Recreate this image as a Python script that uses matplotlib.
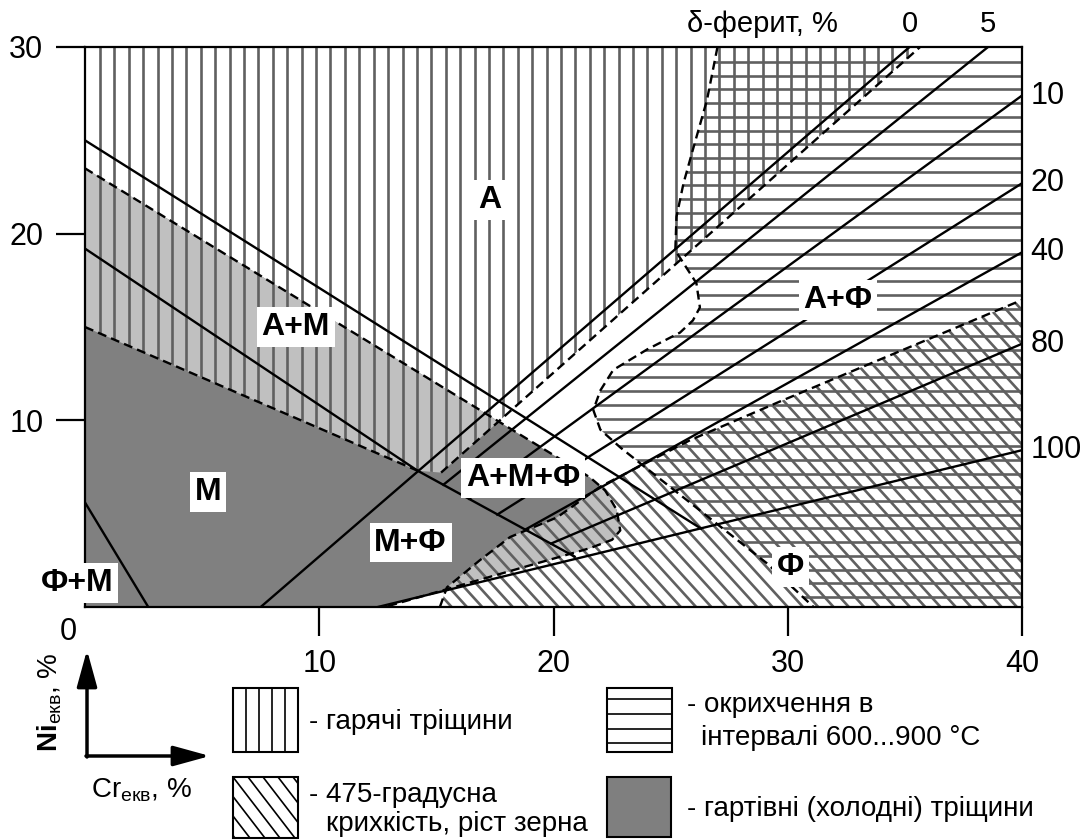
import numpy as np
import matplotlib as mpl
import matplotlib.pyplot as plt
from matplotlib.patches import Polygon, Rectangle
from matplotlib.collections import LineCollection

plt.rcParams['font.family'] = ['Liberation Sans', 'DejaVu Sans']
plt.rcParams['mathtext.fontset'] = 'custom'
plt.rcParams['mathtext.rm'] = 'Liberation Sans'
plt.rcParams['mathtext.it'] = 'Liberation Sans'
plt.rcParams['mathtext.bf'] = 'Liberation Sans:bold'

#--------------------------------
# Datos del diagrama (Cr_ekv, Ni_ekv), leidos de la figura
# linea continua A / A+M
l1_cr = [0.0, 26.3]
l1_ni = [25.0, 4.2]
# linea continua A+M / M (sigue bajo A+M+F)
l2_cr = [0.0, 14.2, 20.9]
l2_ni = [19.2, 7.3, 2.7]
# linea continua M / F+M
l3_cr = [0.0, 2.7]
l3_ni = [5.6, 0.0]

# lineas de delta-ferrita
ferit = [0, 5, 10, 20, 40, 80, 100]
fer_cr0 = [7.5, 15.3, 16.4, 17.6, 18.8, 19.9, 12.5]
fer_ni0 = [0.0, 6.55, 5.8, 4.95, 4.15, 3.4, 0.0]
fer_cr1 = [35.2, 38.55, 40.0, 40.0, 40.0, 40.0, 40.0]
fer_ni1 = [30.0, 30.0, 27.4, 22.7, 19.0, 14.1, 8.4]

# lineas discontinuas
d2_cr = [0.0, 14.2]
d2_ni = [15.0, 7.3]
db_cr = [15.2, 35.65]
db_ni = [7.2, 30.0]

# zonas
# garyachi trishchyny (vertical)
gar_cr = [0.0, 35.65, 15.2, 14.2, 0.0]
gar_ni = [30.0, 30.0, 7.2, 7.3, 15.0]
# okrykhchennya 600...900 C (horizontal)
okr_cr = [27.0, 26.55, 25.95, 25.55, 25.25, 25.2, 26.1, 26.25, 25.95, 25.4, 24.0,
          22.55, 22.0, 21.7, 22.0, 22.85, 23.7, 29.1, 31.1, 40.0, 40.0]
okr_ni = [30.0, 27.15, 24.5, 22.7, 20.9, 19.1, 17.35, 16.05, 15.35, 14.7, 13.8,
          12.7, 11.6, 10.55, 9.5, 8.55, 7.7, 2.35, 0.0, 0.0, 30.0]
# 475-gradusna krykhkist (diagonal)
kr_cr = [15.15, 15.45, 16.85, 18.15, 20.15, 22.0, 25.85, 29.65, 40.0, 40.0]
kr_ni = [0.0, 1.05, 2.5, 3.75, 4.8, 6.45, 8.95, 11.0, 16.45, 0.0]
# gartivni (kholodni) trishchyny (gris)
hol_cr = [0.0, 21.55, 22.2, 22.7, 22.85, 22.5, 21.55, 12.8, 0.0]
hol_ni = [23.5, 6.95, 6.25, 5.2, 4.1, 3.6, 3.15, 0.0, 0.0]

# etiquetas de zonas
zona = ['А', 'А+М', 'М', 'Ф+М', 'М+Ф', 'А+М+Ф', 'А+Ф', 'Ф']
zona_cr = [17.3, 9.0, 5.25, -0.35, 13.9, 18.7, 32.15, 30.1]
zona_ni = [21.8, 15.0, 6.15, 1.3, 3.45, 6.9, 16.45, 2.15]

xt = [10, 20, 30, 40]
yt = [10, 20, 30]

leyenda = ['- гарячі тріщини', '- окрихчення в', 'інтервалі 600...900 °С',
           '- 475-градусна', 'крихкість, ріст зерна', '- гартівні (холодні) тріщини']

#--------------------------------
fig = plt.figure(figsize=(10.89, 8.40), dpi=100)
ax = fig.add_axes((85/1089., 1-607/840., 937/1089., 560/840.))
ax.set_xlim(0, 40)
ax.set_ylim(0, 30)

def poly(cr, ni, **kw):
    p = Polygon(np.column_stack([cr, ni]), closed=True, **kw)
    ax.add_patch(p)
    return p

def rayado(patch, segs, c='#606060', lw=1.9):
    lc = LineCollection(segs, colors=c, linewidths=lw, zorder=2)
    ax.add_collection(lc, autolim=False)
    lc.set_clip_path(patch)

p_hol = poly(hol_cr, hol_ni, fc='#808080', ec='none', zorder=1)
p_gar = poly(gar_cr, gar_ni, fc='none', ec='none')
p_okr = poly(okr_cr, okr_ni, fc='none', ec='none')
p_kr = poly(kr_cr, kr_ni, fc='none', ec='none')
# solape con el gris mas claro
for cr, ni in [(gar_cr, gar_ni), (kr_cr, kr_ni)]:
    q = poly(cr, ni, fc='#c0c0c0', ec='none', zorder=1.2)
    q.set_clip_path(p_hol)

vert = [[(x, 0), (x, 30)] for x in np.arange(0.64, 40, 0.615)]
hori = [[(0, y), (40, y)] for y in np.arange(29.2, 0, -0.735)]
k = -1.38
diag = [[(-2, c - 2*k), (42, c + 42*k)] for c in np.arange(0, 30 - k*42, 0.9)]
rayado(p_gar, vert)
rayado(p_okr, hori)
rayado(p_kr, diag)

lw = 1.7
ds = (0, (3.8, 2.2))
ax.plot(l1_cr, l1_ni, 'k-', lw=lw, zorder=3)
ax.plot(l2_cr, l2_ni, 'k-', lw=lw, zorder=3)
ax.plot(l3_cr, l3_ni, 'k-', lw=lw, zorder=3)
for i in range(len(ferit)):
    ax.plot([fer_cr0[i], fer_cr1[i]], [fer_ni0[i], fer_ni1[i]], 'k-', lw=lw, zorder=3)
ax.plot(d2_cr, d2_ni, color='k', ls=ds, lw=lw, zorder=3)
ax.plot(db_cr, db_ni, color='k', ls=ds, lw=lw, zorder=3)
ax.plot(hol_cr[:-1], hol_ni[:-1], color='k', ls=ds, lw=lw, zorder=3)
ax.plot(kr_cr[:-1], kr_ni[:-1], color='k', ls=ds, lw=lw, zorder=3)
ax.plot(okr_cr[:-2], okr_ni[:-2], color='k', ls=ds, lw=lw, zorder=3)

for t, x, y in zip(zona, zona_cr, zona_ni):
    ax.text(x, y, t, ha='center', va='center', fontsize=23, fontweight='bold', zorder=6,
            clip_on=False, bbox=dict(boxstyle='square,pad=0.15', fc='white', ec='none'))

# ejes
ax.set_xticks(xt)
ax.set_yticks(yt)
ax.tick_params(direction='out', length=21, width=1.6, labelsize=22)
ax.tick_params(axis='x', pad=9)
ax.tick_params(axis='y', pad=9)
for s in ax.spines.values():
    s.set_linewidth(1.6)
    s.set_zorder(4)
ax.text(-0.73, -1.34, '0', ha='center', va='center', fontsize=22, clip_on=False)

# etiquetas de ferrita
for i in range(len(ferit)):
    if fer_ni1[i] >= 30:
        ax.text(fer_cr1[i], 31.25, str(ferit[i]), ha='center', va='center', fontsize=21)
    else:
        ax.text(40.35, fer_ni1[i], str(ferit[i]), ha='left', va='center', fontsize=22)
ax.text(28.9, 31.25, 'δ-ферит, %', ha='center', va='center', fontsize=21)

#--------------------------------
# leyenda en pixeles de la figura
lg = fig.add_axes((0, 0, 1, 1))
lg.set_xlim(0, 1089)
lg.set_ylim(840, 0)
lg.axis('off')

cajas = [(233, 688, 65, 64), (607, 688, 65, 64), (233, 777, 65, 61), (607, 777, 64, 60)]
for j, (x0, y0, w, h) in enumerate(cajas):
    fc = '#7f7f7f' if j == 3 else 'white'
    r = Rectangle((x0, y0), w, h, fc=fc, ec='k', lw=1.5, zorder=2)
    lg.add_patch(r)
    if j == 0:
        for xx in [13, 26, 39, 52]:
            lg.plot([x0+xx, x0+xx], [y0, y0+h], 'k-', lw=1.2, zorder=3)
    elif j == 1:
        for yy in [11, 26, 41, 55]:
            lg.plot([x0, x0+w], [y0+yy, y0+yy], 'k-', lw=1.2, zorder=3)
    elif j == 2:
        lc = LineCollection([[(x0+c, y0), (x0+c+h/1.3, y0+h)] for c in np.arange(-45, 65, 15)],
                            colors='k', linewidths=1.2, zorder=3)
        lg.add_collection(lc)
        lc.set_clip_path(r)

fs = 20
lg.text(309, 722, leyenda[0], ha='left', va='center', fontsize=fs)
lg.text(687, 705, leyenda[1], ha='left', va='center', fontsize=fs)
lg.text(701, 738, leyenda[2], ha='left', va='center', fontsize=fs)
lg.text(309, 795, leyenda[3], ha='left', va='center', fontsize=fs)
lg.text(326, 824, leyenda[4], ha='left', va='center', fontsize=fs)
lg.text(687, 809, leyenda[5], ha='left', va='center', fontsize=fs)

# flechas de ejes
aprops = dict(arrowstyle='-|>,head_length=0.8,head_width=0.22', lw=2.5, color='k',
              mutation_scale=28, shrinkA=0, shrinkB=0)
lg.annotate('', xy=(87, 650), xytext=(87, 757), arrowprops=aprops)
lg.annotate('', xy=(210, 756), xytext=(86, 756), arrowprops=aprops)
lg.text(50, 702, r'$\mathbf{Ni}_{\mathrm{екв}}$, %', rotation=90, ha='center', va='center', fontsize=20)
lg.text(142, 790, r'Cr$_{\mathrm{екв}}$, %', ha='center', va='center', fontsize=20)

fig.savefig('out.png', dpi=100)
